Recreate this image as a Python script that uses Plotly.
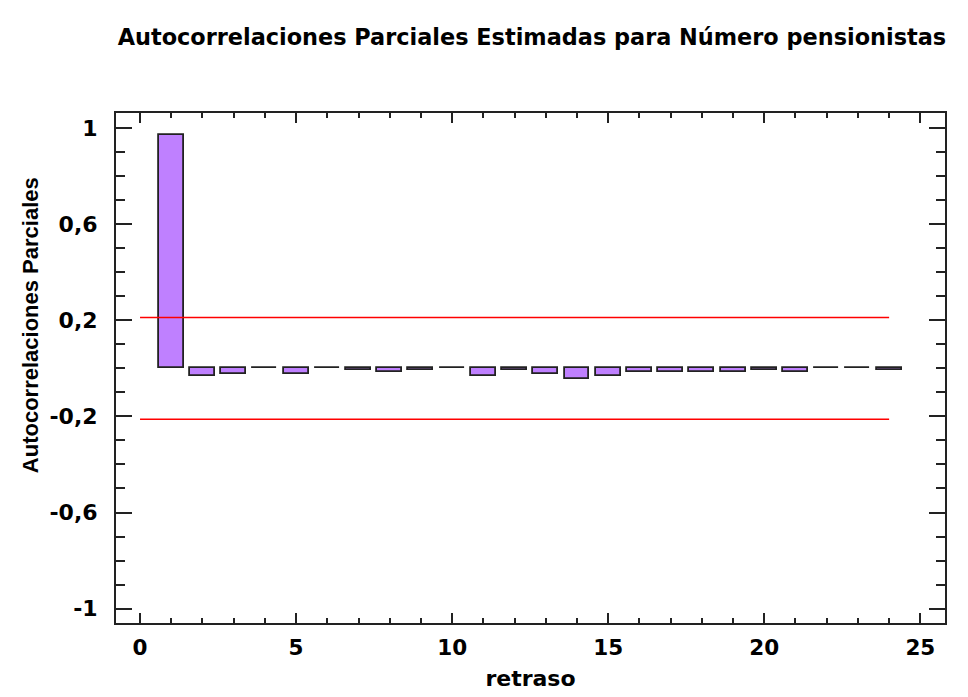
import plotly.graph_objects as go

lags = list(range(1, 25))
pacf = [0.973, -0.030, -0.022, 0.0, -0.022, 0.0, -0.006, -0.016, -0.006, 0.0,
        -0.030, -0.006, -0.022, -0.046, -0.032, -0.016, -0.016, -0.016, -0.016,
        -0.006, -0.016, 0.0, 0.0, -0.006]
limit_x = [0, 24]
upper_limit = [0.212, 0.212]
lower_limit = [-0.212, -0.212]
y_tickvals = [1, 0.6, 0.2, -0.2, -0.6, -1]
y_ticktext = ["1", "0,6", "0,2", "-0,2", "-0,6", "-1"]
x_tickvals = [0, 5, 10, 15, 20, 25]
x_ticktext = ["0", "5", "10", "15", "20", "25"]

WIDE = "DejaVu Sans, Liberation Sans, sans-serif"
NARROW = "Liberation Sans, Arial, sans-serif"

fig = go.Figure()
fig.add_trace(go.Bar(
    x=lags, y=pacf, width=0.8,
    marker=dict(color="#BF80FF", line=dict(color="#222222", width=1.8)),
    showlegend=False, hoverinfo="x+y"))
fig.add_trace(go.Scatter(x=limit_x, y=upper_limit, mode="lines",
                         line=dict(color="#FF0000", width=1.4), showlegend=False))
fig.add_trace(go.Scatter(x=limit_x, y=lower_limit, mode="lines",
                         line=dict(color="#FF0000", width=1.4), showlegend=False))

fig.update_layout(
    width=968, height=697,
    margin=dict(l=116, r=23, t=113, b=74),
    paper_bgcolor="white", plot_bgcolor="white",
    separators=",.",
    font=dict(family=WIDE, color="black"),
    title=dict(text="<b>Autocorrelaciones Parciales Estimadas para Número pensionistas</b>",
               x=0.5495, xanchor="center", y=0.947, yanchor="middle",
               font=dict(size=22.4, family=WIDE, color="black")),
    bargap=0,
    annotations=[dict(text="<b>Autocorrelaciones Parciales</b>", textangle=-90,
                      xref="paper", yref="paper", x=-0.1037, y=0.584,
                      xanchor="center", yanchor="middle", showarrow=False,
                      font=dict(size=22, family=NARROW, color="black"))],
)
fig.update_xaxes(
    range=[-0.77, 25.79], showgrid=False, zeroline=False, automargin=False,
    showline=True, linecolor="#222222", linewidth=2, mirror="allticks",
    ticks="inside", ticklen=10, tickwidth=2, tickcolor="#222222",
    tickmode="array", tickvals=x_tickvals, ticktext=[f"<b>{t}</b>" for t in x_ticktext],
    ticklabelstandoff=4,
    minor=dict(ticks="inside", ticklen=5, tickwidth=2, tickcolor="#222222", dtick=1, tick0=0, showgrid=False),
    tickfont=dict(size=21.5, family=WIDE, color="black"),
    title=dict(text="<b>retraso</b>", font=dict(size=22, family=WIDE, color="black"), standoff=12),
)
fig.update_yaxes(
    range=[-1.06, 1.063], showgrid=False, zeroline=False, automargin=False,
    showline=True, linecolor="#222222", linewidth=2, mirror="allticks",
    ticks="inside", ticklen=16, tickwidth=2, tickcolor="#222222",
    tickmode="array", tickvals=y_tickvals, ticktext=[f"<b>{t}</b>" for t in y_ticktext],
    ticklabelstandoff=12,
    minor=dict(ticks="inside", ticklen=9, tickwidth=2, tickcolor="#222222", dtick=0.1, tick0=0, showgrid=False),
    tickfont=dict(size=22, family=WIDE, color="black"),
)

fig.write_html("out.html")
